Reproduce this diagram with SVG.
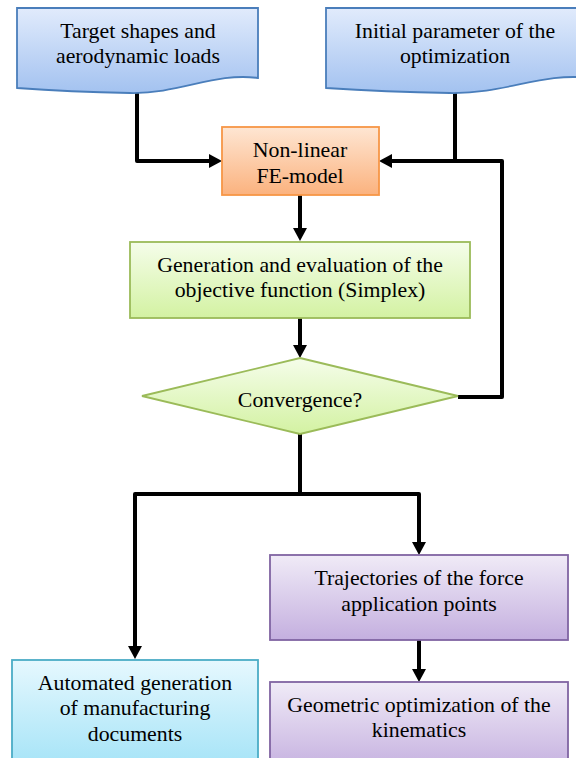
<svg xmlns="http://www.w3.org/2000/svg" width="576" height="758" viewBox="0 0 576 758">
<defs>
<linearGradient id="gBlue" x1="0" y1="0" x2="0" y2="1"><stop offset="0" stop-color="#e1ebfc"/><stop offset="1" stop-color="#a3c2f0"/></linearGradient>
<linearGradient id="gOrange" x1="0" y1="0" x2="0" y2="1"><stop offset="0" stop-color="#fee6d3"/><stop offset="1" stop-color="#fbb27e"/></linearGradient>
<linearGradient id="gGreen" x1="0" y1="0" x2="0" y2="1"><stop offset="0" stop-color="#f5fdea"/><stop offset="1" stop-color="#d3f2a2"/></linearGradient>
<linearGradient id="gPurple" x1="0" y1="0" x2="0" y2="1"><stop offset="0" stop-color="#f0ebf7"/><stop offset="1" stop-color="#c4afdf"/></linearGradient>
<linearGradient id="gCyan" x1="0" y1="0" x2="0" y2="1"><stop offset="0" stop-color="#e6f8fe"/><stop offset="1" stop-color="#a3e3f7"/></linearGradient>
<marker id="arr" viewBox="0 0 13 14" refX="4" refY="7" markerWidth="13" markerHeight="14" markerUnits="userSpaceOnUse" orient="auto">
<path d="M0,0 L13,7 L0,14 Z" fill="#000"/>
</marker>
</defs>
<style>
.t text{font-size:21.8px;fill:#000;text-anchor:middle}
.doc{fill:url(#gBlue);stroke:#4a7ebb;stroke-width:1.8}
.fe{fill:url(#gOrange);stroke:#f79646;stroke-width:1.8}
.gr{fill:url(#gGreen);stroke:#9bbb59;stroke-width:1.8}
.pu{fill:url(#gPurple);stroke:#8064a2;stroke-width:1.8}
.cy{fill:url(#gCyan);stroke:#4bacc6;stroke-width:1.8}
.c{fill:none;stroke:#000;stroke-width:4;stroke-linejoin:round}
.a{marker-end:url(#arr)}
</style>
<g id="connectors">
<path class="c a" d="M137,90 V161 H213"/>
<path class="c" d="M455,84 V161"/>
<path class="c a" d="M458,397 H502 V161 H388"/>
<path class="c a" d="M300,195 V232"/>
<path class="c a" d="M300,318 V349"/>
<path class="c a" d="M300,434 V494 H135 V650"/>
<path class="c a" d="M300,494 H419 V546"/>
<path class="c a" d="M419,640 V673"/>
</g>
<g class="t" font-family="Liberation Serif, Times New Roman, DejaVu Serif, serif">
<g id="target">
<path class="doc" d="M17,8 H258 V78 C215,72 180,94 130,93 C80,92 45,90 17,88 Z"/>
<text x="138" y="38">Target shapes and</text>
<text x="138" y="63">aerodynamic loads</text>
</g>
<g id="initial">
<path class="doc" d="M326,8 H590 V78 C543,72 505,94 450,93 C395,92 357,90 326,88 Z"/>
<text x="455" y="38">Initial parameter of the</text>
<text x="455" y="63">optimization</text>
</g>
<g id="fe">
<rect class="fe" x="222" y="127" width="157" height="68"/>
<text x="300" y="157">Non-linear</text>
<text x="300" y="183">FE-model</text>
</g>
<g id="objective">
<rect class="gr" x="130" y="242" width="340" height="76"/>
<text x="300" y="272">Generation and evaluation of the</text>
<text x="300" y="297">objective function (Simplex)</text>
</g>
<g id="convergence">
<path class="gr" d="M300,358 L458,396 L300,434 L142,396 Z"/>
<text x="300" y="407">Convergence?</text>
</g>
<g id="trajectories">
<rect class="pu" x="270" y="555" width="298" height="85"/>
<text x="419" y="585">Trajectories of the force</text>
<text x="419" y="611">application points</text>
</g>
<g id="geometric">
<rect class="pu" x="270" y="682" width="298" height="90"/>
<text x="419" y="712">Geometric optimization of the</text>
<text x="419" y="737">kinematics</text>
</g>
<g id="automated">
<rect class="cy" x="12" y="660" width="246" height="110"/>
<text x="135" y="690">Automated generation</text>
<text x="135" y="715">of manufacturing</text>
<text x="135" y="741">documents</text>
</g>
</g>
</svg>
